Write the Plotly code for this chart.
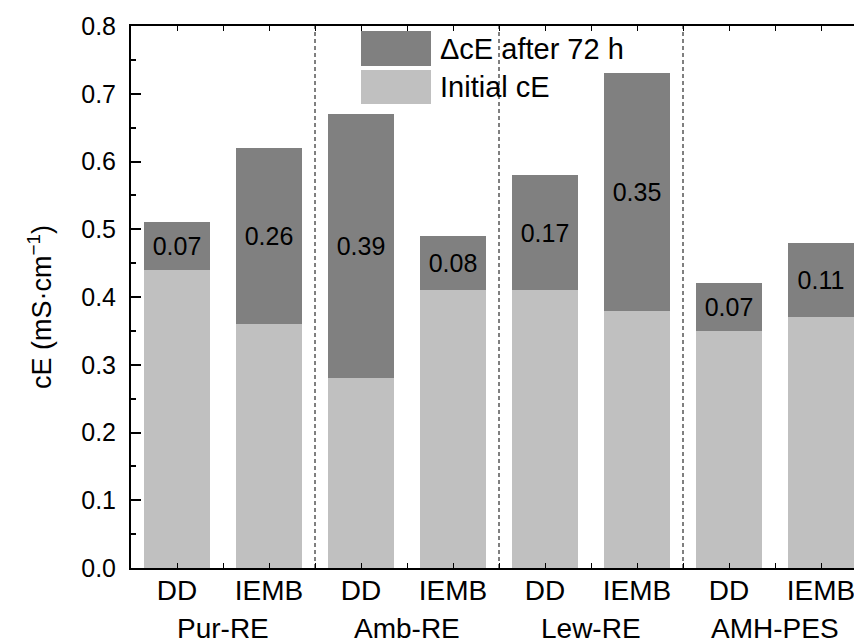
import plotly.graph_objects as go

groups = ["Pur-RE", "Amb-RE", "Lew-RE", "AMH-PES"]
methods = ["DD", "IEMB"]
initial_ce = [0.44, 0.36, 0.28, 0.41, 0.41, 0.38, 0.35, 0.37]
delta_ce = [0.07, 0.26, 0.39, 0.08, 0.17, 0.35, 0.07, 0.11]
series_names = ["\u0394cE after 72 h", "Initial cE"]
y_ticks = [0.0, 0.1, 0.2, 0.3, 0.4, 0.5, 0.6, 0.7, 0.8]

FONT = "Liberation Sans, Arial, sans-serif"
DARK = "#808080"
LIGHT = "#c0c0c0"

n = len(groups) * len(methods)
xs = list(range(n))
xlabels = [m for g in groups for m in methods]

fig = go.Figure()
fig.add_trace(go.Bar(
    x=xs, y=initial_ce, name=series_names[1], marker_color=LIGHT,
    marker_line_width=0, width=0.72, showlegend=False,
))
fig.add_trace(go.Bar(
    x=xs, y=delta_ce, name=series_names[0], marker_color=DARK,
    marker_line_width=0, width=0.72, showlegend=False,
    text=[f"{v:.2f}" for v in delta_ce], textposition="inside",
    insidetextanchor="middle", textangle=0, constraintext="none",
    textfont=dict(family=FONT, size=25, color="black"),
))

shapes = []
# group separators
for i in range(1, len(groups)):
    xb = i * len(methods) - 0.5
    shapes.append(dict(type="line", xref="x", yref="paper", x0=xb, x1=xb, y0=0, y1=1,
                       line=dict(color="black", width=1, dash="4px,3px")))

# legend drawn as swatches + text
W, H = 854, 644
L, R, T, B = 131, 0, 26, 76
pw, ph = W - L - R, H - T - B
def px(xp):
    return (xp - L) / pw
def py(yp):
    return (H - B - yp) / ph

annotations = []
leg = [(series_names[0], DARK, 31, 66), (series_names[1], LIGHT, 70, 104)]
for name, col, y0, y1 in leg:
    shapes.append(dict(type="rect", xref="paper", yref="paper",
                       x0=px(361), x1=px(431), y0=py(y1), y1=py(y0),
                       fillcolor=col, line=dict(width=0)))
    annotations.append(dict(xref="paper", yref="paper", x=px(438), y=py((y0 + y1) / 2),
                            text=name, showarrow=False, xanchor="left", yanchor="middle",
                            font=dict(family=FONT, size=29, color="black")))

# group labels
for gi, g in enumerate(groups):
    cx = gi * len(methods) + (len(methods) - 1) / 2
    annotations.append(dict(xref="x", yref="paper", x=cx, y=py(628), text=g,
                            showarrow=False, xanchor="center", yanchor="middle",
                            font=dict(family=FONT, size=28, color="black")))

# y axis title
annotations.append(dict(xref="paper", yref="paper", x=px(40), y=py(307),
                        text="cE (mS\u00b7cm<sup>\u22121</sup>)", textangle=-90,
                        showarrow=False, xanchor="center", yanchor="middle",
                        font=dict(family=FONT, size=27, color="black")))

fig.update_layout(
    barmode="stack",
    width=W, height=H,
    margin=dict(l=L, r=R, t=T, b=B, pad=0),
    paper_bgcolor="white", plot_bgcolor="white",
    font=dict(family=FONT, size=24, color="black"),
    shapes=shapes, annotations=annotations,
    showlegend=False,
)
fig.update_xaxes(
    range=[-0.5, -0.5 + pw / 92.0], tickmode="array", tickvals=xs, ticktext=xlabels,
    showline=True, linecolor="black", linewidth=2, mirror="ticks",
    ticks="inside", ticklen=5, tickwidth=1, tickcolor="black",
    minor=dict(tickmode="linear", tick0=-0.5, dtick=1, ticks="inside", ticklen=5,
               tickwidth=1, tickcolor="black"),
    showgrid=False, zeroline=False, ticklabeloverflow="allow", ticklabelstandoff=-4,
    tickfont=dict(family=FONT, size=28, color="black"),
)
fig.update_yaxes(
    range=[0, 0.8], tickmode="array", tickvals=y_ticks,
    ticktext=[f"{v:.1f}" for v in y_ticks],
    showline=True, linecolor="black", linewidth=2, mirror=False,
    ticks="inside", ticklen=10, tickwidth=2, tickcolor="black",
    minor=dict(tickmode="linear", tick0=0.05, dtick=0.1, ticks="inside", ticklen=5,
               tickwidth=2, tickcolor="black"),
    showgrid=False, zeroline=False, ticklabelstandoff=8,
    tickfont=dict(family=FONT, size=25, color="black"),
)

fig.write_html("out.html", config={"displayModeBar": False},
               post_script="document.body.style.margin='0px';")
